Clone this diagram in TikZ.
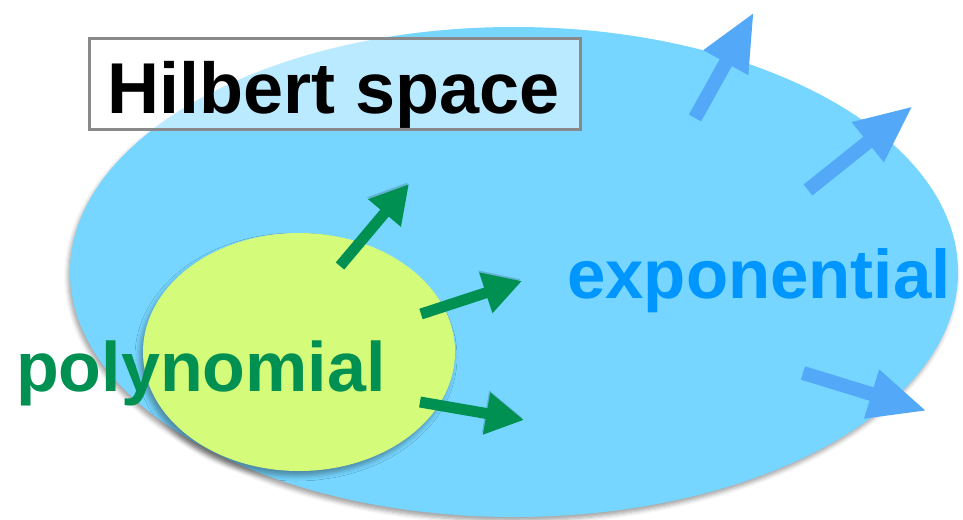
\documentclass[tikz,border=0pt]{standalone}
\usepackage{fontspec}
\setmainfont{Liberation Sans}
\newfontfamily\lbl{Liberation Sans Bold}
\usetikzlibrary{arrows.meta,shapes.geometric,shadows.blur}
\definecolor{sky}{RGB}{118,214,255}
\definecolor{honeydew}{RGB}{212,251,121}
\definecolor{moss}{RGB}{0,144,81}
\definecolor{aqua}{RGB}{0,150,255}
\definecolor{bluearrow}{RGB}{84,168,248}
\definecolor{boxgray}{RGB}{137,137,140}
\tikzset{
  garrow/.style={draw=moss, line width=11pt, -{Triangle[length=38pt,width=40pt]}},
  barrow/.style={draw=bluearrow, line width=14pt, -{Triangle[length=58pt,width=47pt]}},
  ashadow/.style={preaction={draw=black, opacity=0.16, transform canvas={shift={(-1pt,2pt)}}}},
  blob/.style={ellipse, inner sep=0pt, draw=none},
  label/.style={anchor=base west, inner sep=0pt}
}
\begin{document}
\begin{tikzpicture}[x=1pt,y=-1pt]
\useasboundingbox (0,0) rectangle (963,519);
% Hilbert space ellipse
\node[blob, fill=sky, minimum width=888pt, minimum height=490pt,
      blur shadow={shadow xshift=-2pt, shadow yshift=-4pt, shadow blur radius=4pt, shadow opacity=35}] (hs) at (514,272) {};
% polynomial ellipse
\node[blob, fill=honeydew, minimum width=312pt, minimum height=238pt,
      blur shadow={shadow xshift=-3pt, shadow yshift=-5pt, shadow blur radius=5pt, shadow opacity=35}] (poly) at (299,352) {};
% title box
\node[draw=boxgray, line width=3.5pt, fill=white, fill opacity=0.5, draw opacity=1,
      minimum width=491pt, minimum height=91pt, inner sep=0pt] (box) at (335,84) {};
\node[label, font=\lbl\fontsize{72}{80}\selectfont, text=black] (htext) at (107,113) {Hilbert space};
% blue arrows
\coordinate (b1s) at (695,118); \coordinate (b1e) at (754,12);
\coordinate (b2s) at (808,190); \coordinate (b2e) at (913,106);
\coordinate (b3s) at (803,373); \coordinate (b3e) at (927,411);
\draw[barrow, ashadow] (b1s) -- (b1e);
\draw[barrow, ashadow] (b2s) -- (b2e);
\draw[barrow, ashadow] (b3s) -- (b3e);
% green arrows
\coordinate (g1s) at (340,266); \coordinate (g1e) at (409,184);
\coordinate (g2s) at (421,314); \coordinate (g2e) at (522,281);
\coordinate (g3s) at (420,402); \coordinate (g3e) at (524,420);
\draw[garrow, ashadow] (g1s) -- (g1e);
\draw[garrow, ashadow] (g2s) -- (g2e);
\draw[garrow, ashadow] (g3s) -- (g3e);
% labels
\node[label, font=\lbl\fontsize{70}{80}\selectfont, text=moss] (ptext) at (16,391) {polynomial};
\node[label, font=\lbl\fontsize{69}{80}\selectfont, text=aqua] (etext) at (567,298) {exponential};
\end{tikzpicture}
\end{document}
